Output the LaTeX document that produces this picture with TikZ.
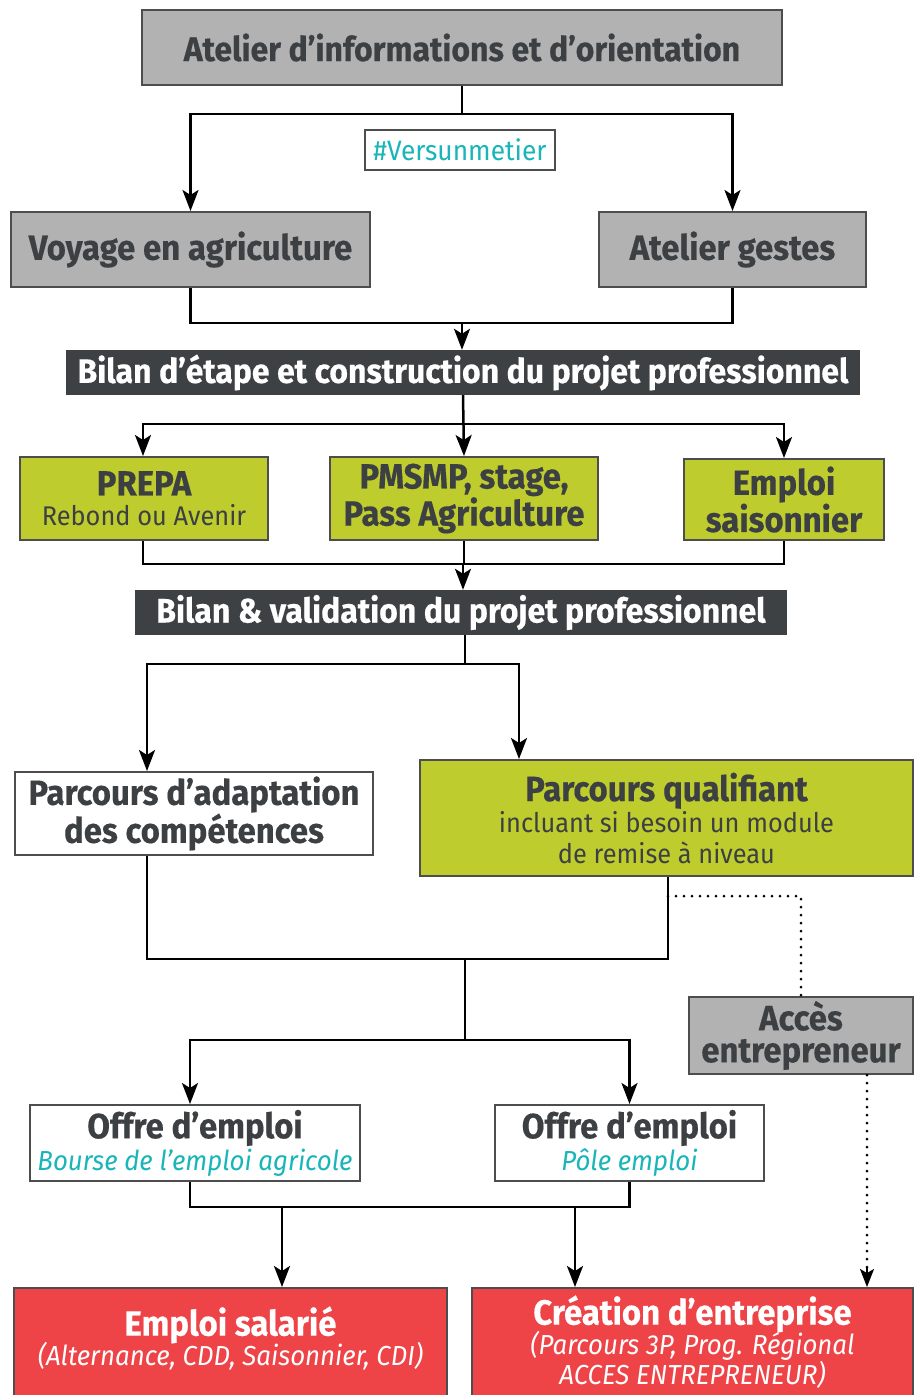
\documentclass[tikz,border=0pt]{standalone}
\usepackage{fontspec}
\setmainfont{Fira Sans}[FakeStretch=0.94, BoldFeatures={FakeBold=0.4}]
\usetikzlibrary{arrows.meta}
\definecolor{boxgray}{HTML}{B2B2B2}
\definecolor{boxline}{HTML}{4D4D4D}
\definecolor{ink}{HTML}{3C4043}
\definecolor{bardark}{HTML}{3E4143}
\definecolor{leaf}{HTML}{BFCC2E}
\definecolor{tomato}{HTML}{EE4448}
\definecolor{teal}{HTML}{19B5B8}
\newcommand{\subtxt}{\mdseries\fontsize{27}{32}\selectfont}
\newcommand{\subital}{\mdseries\itshape\fontsize{27.5}{32}\selectfont}

\begin{document}
\begin{tikzpicture}[x=1pt, y=-1pt,
    box/.style={draw=boxline, line width=2pt, text=ink, align=center, inner sep=0pt,
      font=\bfseries\fontsize{35}{32}\selectfont},
    bar/.style={fill=bardark, text=white, inner sep=0pt, minimum height=45,
      font=\bfseries\fontsize{34}{34}\selectfont},
    arr/.style={line width=2.5pt, -{Stealth[length=21pt, width=16pt, inset=5pt]}},
    link/.style={line width=2.5pt},
    dotline/.style={line width=3pt, line cap=round, dash pattern=on 0pt off 8pt}]
  \useasboundingbox (0,0) rectangle (922,1395);

  \node[box, fill=boxgray, minimum width=640, minimum height=75, font=\bfseries\fontsize{34}{34}\selectfont] (0) at (462,47.5) {Atelier d’informations et d’orientation};
  \node[draw=boxline, line width=1.5pt, fill=white, text=teal, minimum width=190, minimum height=40, inner sep=0pt,
    font=\fontsize{28}{28}\selectfont] (v) at (460,150) {\#Versunmetier};
  \node[box, fill=boxgray, minimum width=359, minimum height=75] (1) at (190.5,249.5) {Voyage en agriculture};
  \node[box, fill=boxgray, minimum width=267, minimum height=75] (2) at (732.5,249.5) {Atelier gestes};

  \node[bar, minimum width=794] (3) at (463,372.5) {Bilan d’étape et construction du projet professionnel};

  \node[box, fill=leaf, minimum width=248, minimum height=83] (4) at (144,498.5) {PREPA\\[-2pt]{\subtxt Rebond ou Avenir}};
  \node[box, fill=leaf, minimum width=268, minimum height=83] (5) at (464,498.5) {PMSMP, stage,\\Pass Agriculture};
  \node[box, fill=leaf, minimum width=200, minimum height=81] (6) at (784,499.5) {Emploi\\saisonnier};

  \node[bar, minimum width=652] (7) at (461,612.5) {Bilan \& validation du projet professionnel};

  \node[box, fill=white, minimum width=358, minimum height=83] (8) at (194,813.5) {Parcours d’adaptation\\des compétences};
  \node[box, fill=leaf, minimum width=493, minimum height=116] (9) at (666.5,818) {Parcours qualifiant\\[-1pt]{\subtxt incluant si besoin un module}\\[-1pt]{\subtxt de remise à niveau}};
  \node[box, fill=boxgray, minimum width=224, minimum height=77] (10) at (801,1035.5) {Accès\\entrepreneur};

  \node[box, fill=white, minimum width=330, minimum height=76] (11) at (195,1143) {Offre d’emploi\\{\subital\color{teal}Bourse de l’emploi agricole}};
  \node[box, fill=white, minimum width=269, minimum height=76] (12) at (629.5,1143) {Offre d’emploi\\{\subital\color{teal}Pôle emploi}};

  \node[box, fill=tomato, text=white, minimum width=433, minimum height=112] (13) at (230.5,1344) {Emploi salarié\\[-2pt]{\subital (Alternance, CDD, Saisonnier, CDI)}\\[-16pt]};
  \node[box, fill=tomato, text=white, minimum width=441, minimum height=112] (14) at (692.5,1344) {Création d’entreprise\\[-2pt]{\subital (Parcours 3P, Prog. Régional}\\[-2pt]{\subital ACCES ENTREPRENEUR)}\\[-24pt]};

  % top level
  \draw[arr] (0.south) -- ++(0,28) -| (1.north);
  \draw[arr] (0.south) -- ++(0,28) -| (2.north);
  \draw[link] (1.south) -- ++(0,35) -| (2.south);
  \coordinate (j1) at (462,322);
  \draw[arr] (j1) -- (j1 |- 3.north);

  % first bilan
  \draw[arr] (3.south) -- ++(0,29) -| ([xshift=-1]4.north);
  \draw[arr] (3.south) -- (5.north);
  \draw[arr] (3.south) -- ++(0,29) -| (6.north);
  \draw[link] ([xshift=-1]4.south) -- ++(0,23) -| (6.south);
  \draw[link] (5.south) -- ++(0,23);
  \coordinate (j2) at (463,563);
  \draw[arr] (j2) -- (j2 |- 7.north);

  % second bilan
  \coordinate (j3) at (465,635);
  \draw[arr] (j3) -- ++(0,29) -| ([xshift=-47]8.north);
  \draw[arr] (j3) -- ++(0,29) -| ([xshift=-147.5]9.north);
  \draw[link] ([xshift=-47]8.south) -- ++(0,103) -| ([xshift=1.5]9.south);
  \coordinate (j4) at (465,958);
  \draw[arr] (j4) -- ++(0,82) -| ([xshift=-5]11.north);
  \draw[arr] (j4) -- ++(0,82) -| (12.north);

  % entrepreneur
  \coordinate (e1) at ([xshift=66]10.south |- 14.north);
  \draw[dotline] ([xshift=1.5]9.south) ++(0,19) -| (10.north);
  \draw[dotline] ([xshift=66]10.south) -- ([yshift=14]e1);
  \draw[line width=2pt, -{Stealth[length=18pt, width=14pt, inset=4pt]}] ([yshift=19]e1) -- (e1);

  % offres
  \draw[link] ([xshift=-5]11.south) -- ++(0,25) -| (12.south);
  \coordinate (j5) at (282,1206);
  \coordinate (j6) at (575,1206);
  \draw[arr] (j5) -- (j5 |- 13.north);
  \draw[arr] (j6) -- (j6 |- 14.north);
\end{tikzpicture}
\end{document}
